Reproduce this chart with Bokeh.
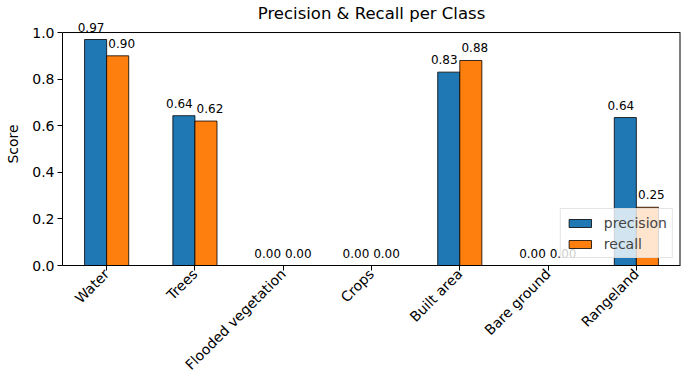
import math
from bokeh.plotting import figure
from bokeh.models import ColumnDataSource, FixedTicker, Legend, LegendItem, LabelSet, Span
from bokeh.core.properties import value
from bokeh.embed import file_html
from bokeh.resources import INLINE

classes = ["Water", "Trees", "Flooded vegetation", "Crops", "Built area", "Bare ground", "Rangeland"]
precision = [0.97, 0.643, 0.0, 0.0, 0.83, 0.0, 0.635]
recall = [0.90, 0.62, 0.0, 0.0, 0.88, 0.0, 0.25]
y_ticks = [0.0, 0.2, 0.4, 0.6, 0.8, 1.0]

FONT = "DejaVu Sans"
BLUE = "#1f77b4"
ORANGE = "#ff7f0e"
W = 0.25
X_START, X_END = -0.5, len(classes) - 0.5
Y_TOP = y_ticks[-1]
Y_HEADROOM = 1.043  # extra room above the top spine so the value labels are not clipped

idx = list(range(len(classes)))
src_p = ColumnDataSource(dict(x=[i - W / 2 for i in idx], top=precision,
                              lab=["%.2f" % v for v in precision]))
src_r = ColumnDataSource(dict(x=[i + W / 2 for i in idx], top=recall,
                              lab=["%.2f" % v for v in recall]))

p = figure(width=690, height=390, output_backend="svg", toolbar_location=None,
           x_range=(X_START, X_END), y_range=(0, Y_HEADROOM),
           min_border_left=62, min_border_right=10, min_border_top=22, min_border_bottom=125)

p.title.text = "Precision & Recall per Class"
p.title.align = "center"
p.title.text_font = FONT
p.title.text_font_size = "16.5px"
p.title.text_font_style = "normal"
p.title.text_color = "black"
p.title.standoff = 0

r1 = p.vbar(x="x", top="top", width=W, source=src_p, fill_color=BLUE,
            line_color="black", line_width=0.8)
r2 = p.vbar(x="x", top="top", width=W, source=src_r, fill_color=ORANGE,
            line_color="black", line_width=0.8)

p.xgrid.visible = False
p.ygrid.visible = False
p.outline_line_color = None

# top and right spines at the top of the axis (1.0)
p.add_layout(Span(location=Y_TOP, dimension="width", line_color="black", line_width=1))
p.segment(x0=[X_END], y0=[0], x1=[X_END], y1=[Y_TOP], line_color="black", line_width=2)

p.xaxis.ticker = FixedTicker(ticks=idx)
p.xaxis.major_label_overrides = {i: c for i, c in enumerate(classes)}
p.xaxis.major_label_orientation = math.pi / 4
p.yaxis.ticker = FixedTicker(ticks=y_ticks)
p.yaxis.major_label_overrides = {t: "%.1f" % t for t in y_ticks}
p.yaxis.axis_label = "Score"
p.yaxis.bounds = (0, Y_TOP)

for ax in (p.xaxis[0], p.yaxis[0]):
    ax.axis_line_color = "black"
    ax.major_tick_line_color = "black"
    ax.major_tick_out = 5
    ax.major_tick_in = 0
    ax.minor_tick_line_color = None
    ax.major_label_text_font = FONT
    ax.major_label_text_font_size = "14px"
    ax.major_label_text_color = "black"
    ax.axis_label_text_font = FONT
    ax.axis_label_text_font_size = "14px"
    ax.axis_label_text_font_style = "normal"
    ax.axis_label_text_color = "black"
    ax.major_label_standoff = 3
p.xaxis.major_label_standoff = 1
p.yaxis.axis_label_standoff = 8

legend = Legend(items=[LegendItem(label="precision", renderers=[r1]),
                       LegendItem(label="recall", renderers=[r2])],
                location="bottom_right")
legend.label_text_font = FONT
legend.label_text_font_size = "14px"
legend.border_line_color = "#cccccc"
legend.background_fill_alpha = 0.8
legend.glyph_width = 28
legend.glyph_height = 10
legend.label_height = 17
legend.label_width = 62
legend.margin = 7
legend.padding = 5
legend.spacing = 4
legend.label_standoff = 10
p.add_layout(legend)

for s, dx in ((src_p, -4.5), (src_r, 4)):
    ls = LabelSet(x="x", y="top", text="lab", source=s, text_align="center",
                  text_baseline="alphabetic", x_offset=dx, y_offset=8,
                  text_font=value(FONT), text_font_size="12px", text_color="black",
                  level="overlay")
    p.add_layout(ls)

open("out.html", "w").write(file_html(p, INLINE))
